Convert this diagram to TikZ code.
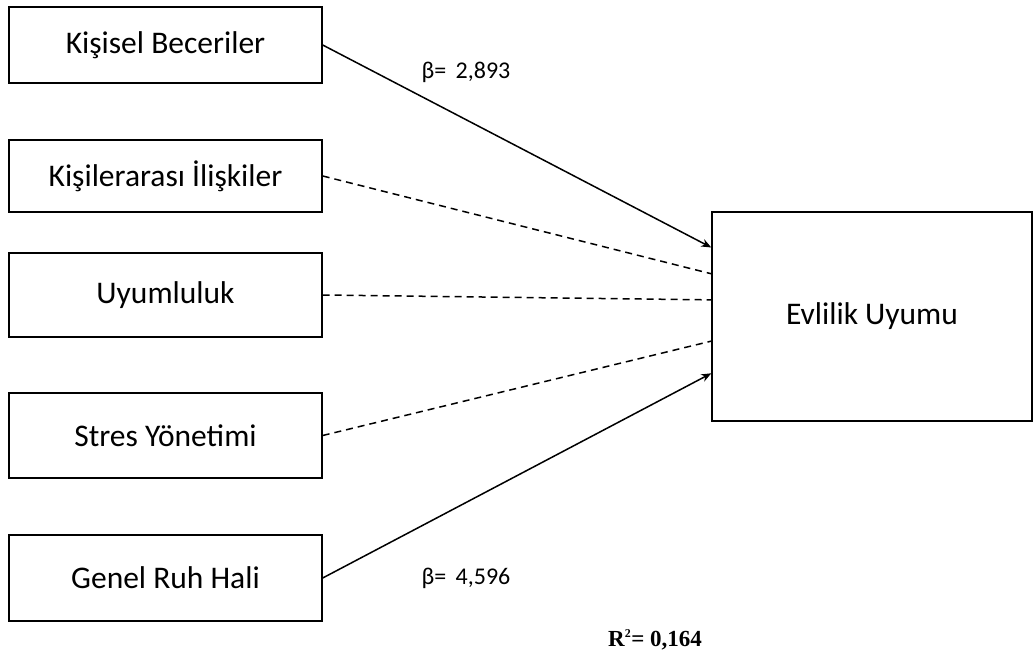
\documentclass[tikz,border=0pt]{standalone}
\usepackage{fontspec}
\setmainfont{Carlito}
\newfontfamily\rfont{Liberation Serif}
\usetikzlibrary{arrows.meta,calc}

\tikzset{
  varbox/.style={draw, line width=1.4pt, minimum width=313pt, inner sep=0pt,
                 font=\fontsize{31.5}{36}\selectfont},
  effect/.style={line width=1.5pt, -{Stealth[length=10pt,width=8pt]}},
  noeffect/.style={line width=1.5pt, dash pattern=on 7pt off 5pt},
  coef/.style={font=\fontsize{24}{28}\selectfont}
}

\begin{document}
\begin{tikzpicture}[x=1pt, y=-1pt]
    \useasboundingbox (0,0) rectangle (1033,660);

    % predictors
    \node[varbox, minimum height=76pt] (kb) at (165.5, 45)    {Kişisel Beceriler};
    \node[varbox, minimum height=72pt] (ki) at (165.5, 176)   {Kişilerarası İlişkiler};
    \node[varbox, minimum height=84pt] (uy) at (165.5, 295)   {Uyumluluk};
    \node[varbox, minimum height=85pt] (sy) at (165.5, 435.5) {Stres Yönetimi};
    \node[varbox, minimum height=86pt] (gr) at (165.5, 578)   {Genel Ruh Hali};

    % outcome
    \node[varbox, minimum width=320pt, minimum height=209pt] (eu) at (872, 316.5) {Evlilik Uyumu};

    \coordinate (p1) at ($(eu.north west)!0.172!(eu.south west)$);
    \coordinate (p2) at ($(eu.north west)!0.297!(eu.south west)$);
    \coordinate (p3) at ($(eu.north west)!0.421!(eu.south west)$);
    \coordinate (p4) at ($(eu.north west)!0.617!(eu.south west)$);
    \coordinate (p5) at ($(eu.north west)!0.770!(eu.south west)$);

    \draw[effect]   (kb.east) -- (p1);
    \draw[noeffect] (ki.east) -- (p2);
    \draw[noeffect] (uy.east) -- (p3);
    \draw[noeffect] (sy.east) -- (p4);
    \draw[effect]   (gr.east) -- (p5);

    % coefficients
    \node[coef] (b1) at (466, 72)  {β=\, 2,893};
    \node[coef] (b5) at (466, 578) {β=\, 4,596};
    \node[font=\rfont\bfseries\fontsize{23}{27}\selectfont] (r2) at (655, 640) {R\textsuperscript{\fontsize{12}{12}\selectfont 2}= 0,164};
\end{tikzpicture}
\end{document}
